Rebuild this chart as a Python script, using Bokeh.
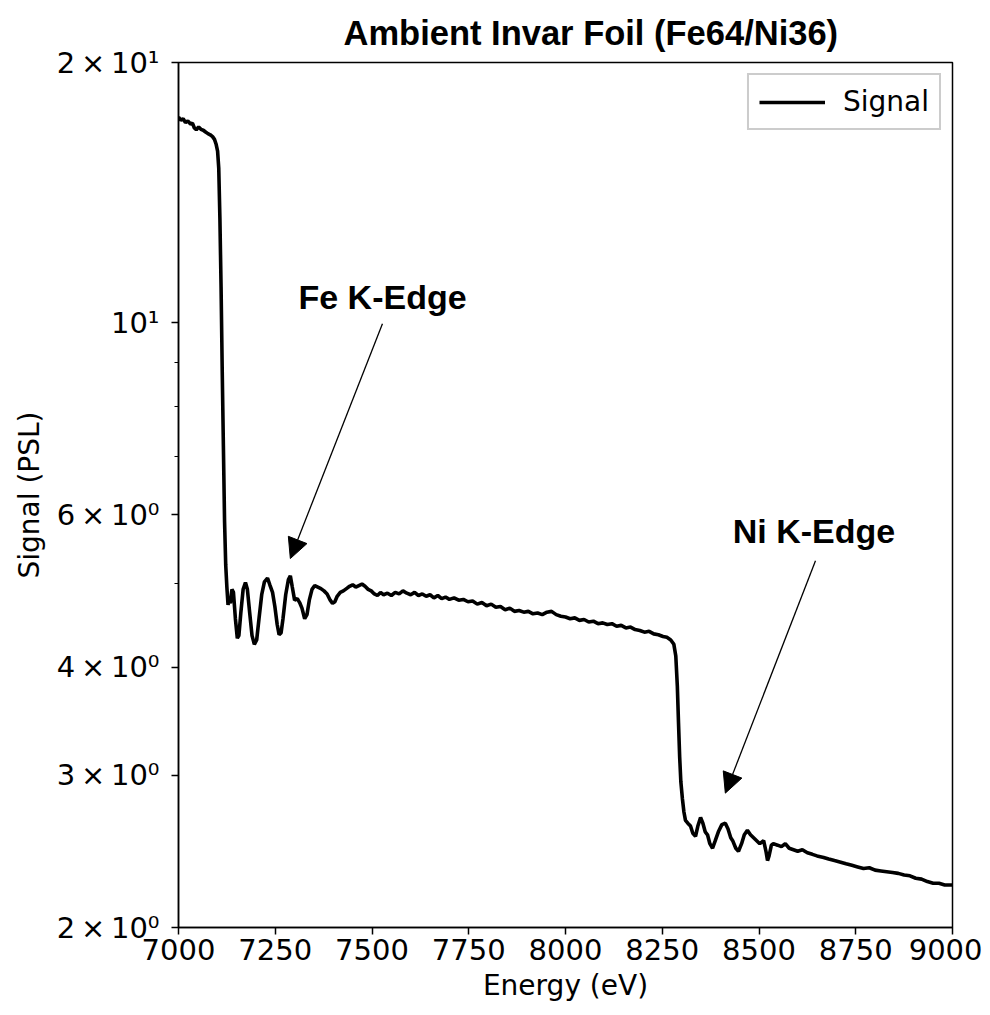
from bokeh.plotting import figure
from bokeh.models import (FixedTicker, Legend, LegendItem, Label, Arrow, NormalHead,
                          ColumnDataSource, Range1d)
from bokeh.embed import file_html
from bokeh.resources import INLINE

# ---------------- data ----------------
energy = [
    7000, 7006, 7012, 7018, 7024, 7031, 7036, 7041, 7046, 7052, 7058, 7064, 7070, 7076,
    7082, 7088, 7093, 7097, 7101, 7104, 7107, 7110, 7113, 7116, 7119, 7122, 7125, 7128,
    7131, 7134, 7138, 7142, 7147, 7152, 7156, 7161, 7167, 7173, 7178, 7184, 7190, 7196,
    7202, 7208, 7215, 7222, 7230, 7236, 7243, 7249, 7255, 7260, 7265, 7270, 7277, 7284,
    7289, 7294, 7300, 7307, 7313, 7319, 7326, 7332, 7338, 7345, 7352, 7360, 7368, 7376,
    7384, 7392, 7398, 7404, 7410, 7418, 7426, 7434, 7442, 7450, 7458, 7466, 7474, 7482,
    7490, 7498, 7506, 7514, 7522, 7530, 7540, 7550, 7560, 7570, 7580, 7590, 7600, 7610,
    7620, 7630, 7640, 7650, 7660, 7670, 7680, 7690, 7700, 7712, 7724, 7736, 7748, 7760,
    7772, 7784, 7796, 7808, 7820, 7832, 7844, 7856, 7868, 7880, 7892, 7904, 7916, 7928,
    7940, 7952, 7964, 7976, 7988, 8000, 8012, 8024, 8036, 8048, 8060, 8072, 8084, 8096,
    8108, 8120, 8132, 8144, 8156, 8168, 8180, 8192, 8204, 8216, 8228, 8240, 8252, 8262,
    8272, 8280, 8285, 8289, 8292, 8295, 8298, 8302, 8306, 8310, 8316, 8323, 8329, 8336,
    8342, 8349, 8355, 8361, 8367, 8373, 8380, 8387, 8395, 8404, 8413, 8420, 8427, 8432,
    8440, 8447, 8455, 8462, 8470, 8478, 8486, 8494, 8502, 8512, 8518, 8522, 8526, 8532,
    8537, 8548, 8558, 8568, 8578, 8589, 8600, 8612, 8625, 8638, 8650, 8667, 8680, 8695,
    8711, 8725, 8740, 8755, 8770, 8785, 8800, 8815, 8830, 8845, 8860, 8875, 8890, 8905,
    8920, 8935, 8950, 8965, 8980, 9000,
]
signal = [
    17.30, 17.15, 17.22, 17.05, 17.12, 16.98, 17.02, 16.80, 16.72, 16.85, 16.74, 16.70, 16.62, 16.55,
    16.50, 16.42, 16.30, 16.10, 15.80, 15.10, 13.20, 11.00, 8.80, 7.20, 5.90, 5.25, 4.95, 4.72,
    4.80, 4.74, 4.92, 4.88, 4.55, 4.32, 4.35, 4.62, 4.92, 5.01, 4.92, 4.62, 4.35, 4.25,
    4.30, 4.55, 4.85, 5.02, 5.07, 4.98, 4.88, 4.70, 4.48, 4.36, 4.38, 4.55, 4.85, 5.05,
    5.10, 4.95, 4.78, 4.80, 4.75, 4.68, 4.55, 4.60, 4.78, 4.92, 4.97, 4.95, 4.93, 4.90,
    4.86, 4.78, 4.74, 4.76, 4.83, 4.88, 4.90, 4.93, 4.96, 4.98, 4.95, 4.97, 4.99, 4.96,
    4.92, 4.90, 4.86, 4.84, 4.88, 4.85, 4.87, 4.84, 4.88, 4.86, 4.90, 4.87, 4.85, 4.88,
    4.84, 4.86, 4.83, 4.85, 4.81, 4.84, 4.80, 4.82, 4.79, 4.81, 4.78, 4.79, 4.76, 4.77,
    4.73, 4.75, 4.71, 4.73, 4.69, 4.70, 4.66, 4.68, 4.64, 4.65, 4.63, 4.64, 4.61, 4.62,
    4.60, 4.63, 4.64, 4.60, 4.58, 4.57, 4.55, 4.56, 4.53, 4.54, 4.51, 4.52, 4.49, 4.50,
    4.48, 4.49, 4.46, 4.47, 4.44, 4.45, 4.42, 4.41, 4.39, 4.40, 4.37, 4.36, 4.34, 4.33,
    4.30, 4.25, 4.12, 3.80, 3.45, 3.15, 2.95, 2.82, 2.72, 2.66, 2.64, 2.62, 2.57, 2.55,
    2.62, 2.68, 2.64, 2.58, 2.56, 2.50, 2.47, 2.52, 2.58, 2.63, 2.64, 2.60, 2.54, 2.52,
    2.47, 2.45, 2.50, 2.56, 2.59, 2.56, 2.54, 2.52, 2.50, 2.52, 2.45, 2.39, 2.42, 2.49,
    2.50, 2.49, 2.48, 2.50, 2.47, 2.46, 2.45, 2.46, 2.44, 2.43, 2.42, 2.41, 2.40, 2.39,
    2.38, 2.37, 2.36, 2.35, 2.34, 2.345, 2.33, 2.325, 2.32, 2.315, 2.31, 2.30, 2.295, 2.28,
    2.275, 2.26, 2.25, 2.25, 2.24, 2.24,
]

x_ticks = [7000, 7250, 7500, 7750, 8000, 8250, 8500, 8750, 9000]
y_major_ticks = [2, 3, 4, 6, 10, 20]
y_minor_ticks = [5, 7, 8, 9]
y_tick_labels = ["2\u2009×\u200910⁰", "3\u2009×\u200910⁰", "4\u2009×\u200910⁰",
                 "6\u2009×\u200910⁰", "10¹", "2\u2009×\u200910¹"]

title_text = "Ambient Invar Foil (Fe64/Ni36)"
x_label = "Energy (eV)"
y_label = "Signal (PSL)"
series_name = "Signal"

# annotations: (text, text_x, text_y, arrow_from_x, arrow_from_y, arrow_to_x, arrow_to_y)
annotations = [
    ("Fe K-Edge", 7310, 10.7, 7527, 9.98, 7289, 5.34),
    ("Ni K-Edge", 8432, 5.74, 8646, 5.31, 8413, 2.86),
]

TICK_FONT = "DejaVu Sans"
BOLD_FONT = "Liberation Sans"

p = figure(
    frame_width=774, frame_height=865,
    y_axis_type="log",
    x_range=Range1d(7000, 9000), y_range=Range1d(2, 20),
    output_backend="svg", toolbar_location=None,
    min_border_left=178, min_border_right=30, min_border_top=62, min_border_bottom=80,
    title=title_text,
)
p.background_fill_color = "white"
p.border_fill_color = "white"
p.outline_line_color = "black"
p.outline_line_width = 1.5
p.xgrid.visible = False
p.ygrid.visible = False

p.title.text_font = BOLD_FONT
p.title.text_font_style = "bold"
p.title.text_font_size = "34.5px"
p.title.text_line_height = 1.0
p.title.align = "left"
p.title.offset = 165
p.title.text_color = "black"
p.title.standoff = 22

src = ColumnDataSource(data=dict(energy=energy, signal=signal))
r = p.line("energy", "signal", source=src, line_color="black", line_width=3.6)

# x axis
xa = p.xaxis[0]
xa.ticker = FixedTicker(ticks=x_ticks)
xa.axis_label = x_label
# y axis
ya = p.yaxis[0]
ya.ticker = FixedTicker(ticks=y_major_ticks, minor_ticks=y_minor_ticks)
ya.major_label_overrides = {t: lab for t, lab in zip(y_major_ticks, y_tick_labels)}
ya.axis_label = y_label

for ax in (xa, ya):
    ax.axis_line_color = "black"
    ax.axis_line_width = 1.5
    ax.major_tick_line_color = "black"
    ax.major_tick_line_width = 1.5
    ax.minor_tick_line_color = "black"
    ax.minor_tick_line_width = 1.2
    ax.major_tick_in = 0
    ax.major_tick_out = 7
    ax.minor_tick_in = 0
    ax.minor_tick_out = 4
    ax.major_label_text_font = TICK_FONT
    ax.major_label_text_font_size = "29px"
    ax.major_label_text_color = "black"
    ax.axis_label_text_font = TICK_FONT
    ax.axis_label_text_font_size = "28px"
    ax.axis_label_text_font_style = "normal"
    ax.axis_label_text_color = "black"

xa.minor_tick_out = 0
xa.major_label_standoff = 4
xa.axis_label_standoff = 6
ya.major_label_standoff = 12
ya.axis_label_standoff = 8
ya.major_label_orientation = "horizontal"

# annotations
for txt, tx, ty, fx, fy, ex, ey in annotations:
    p.add_layout(Label(x=tx, y=ty, text=txt, text_font=BOLD_FONT, text_font_style="bold",
                       text_font_size="34px", text_baseline="middle", text_align="left",
                       text_color="black"))
    p.add_layout(Arrow(x_start=fx, y_start=fy, x_end=ex, y_end=ey,
                       line_color="black", line_width=1.3,
                       end=NormalHead(size=20, fill_color="black", line_color="black",
                                      line_width=1)))

legend = Legend(items=[LegendItem(label=series_name, renderers=[r])],
                location="top_right")
legend.label_text_font = TICK_FONT
legend.label_text_font_size = "28px"
legend.label_text_color = "black"
legend.glyph_width = 66
legend.glyph_height = 30
legend.label_standoff = 18
legend.padding = 10
legend.margin = 11
legend.spacing = 0
legend.border_line_color = "#cccccc"
legend.border_line_width = 2
legend.border_line_alpha = 1.0
legend.background_fill_alpha = 1.0
p.add_layout(legend)

open("out.html", "w").write(file_html(p, INLINE))
